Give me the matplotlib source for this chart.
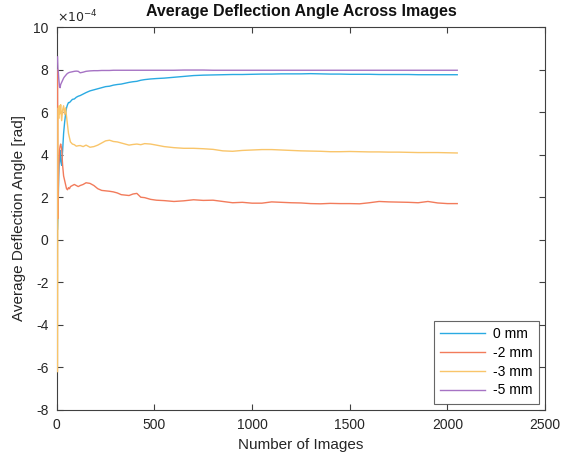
import matplotlib
matplotlib.use("Agg")
import matplotlib.pyplot as plt
from matplotlib.ticker import FixedLocator, FuncFormatter

plt.rcParams['font.family'] = ['Liberation Sans', 'DejaVu Sans']
plt.rcParams['axes.unicode_minus'] = False

# Number of images (x positions of sampled points)
n_images = [4, 6, 8, 10, 12, 14, 17, 20, 25, 30, 35, 40, 45, 50, 55, 60, 65, 70,
            80, 90, 100, 110, 120, 135, 150, 170, 190, 210, 230, 250, 270, 290,
            310, 330, 350, 370, 390, 410, 430, 450, 480, 510, 550, 600, 650, 700,
            750, 800, 850, 900, 950, 1000, 1050, 1100, 1150, 1200, 1250, 1300,
            1350, 1400, 1450, 1500, 1550, 1600, 1650, 1700, 1750, 1800, 1850,
            1900, 1950, 2000, 2050]

# Average deflection angle, in units of 1e-4 rad
mm_0 = [0.5, 1.2, 2.0, 3.0, 3.6, 4.1, 4.2, 3.7, 3.5, 4.2, 5.0, 5.5, 5.9, 6.2,
        6.35, 6.45, 6.45, 6.5, 6.6, 6.62, 6.7, 6.75, 6.78, 6.85, 6.92, 7.0, 7.05,
        7.1, 7.15, 7.2, 7.22, 7.27, 7.3, 7.32, 7.36, 7.4, 7.43, 7.45, 7.5, 7.53,
        7.56, 7.58, 7.6, 7.64, 7.68, 7.72, 7.74, 7.75, 7.76, 7.77, 7.77, 7.78,
        7.79, 7.79, 7.8, 7.8, 7.8, 7.81, 7.8, 7.79, 7.79, 7.78, 7.78, 7.78, 7.77,
        7.77, 7.77, 7.77, 7.76, 7.76, 7.76, 7.76, 7.76]

mm_2 = [8.0, 1.0, 2.5, 3.5, 3.8, 4.2, 4.4, 4.5, 4.3, 3.5, 3.0, 2.8, 2.6, 2.4,
        2.35, 2.45, 2.4, 2.5, 2.55, 2.6, 2.55, 2.5, 2.55, 2.6, 2.68, 2.65, 2.55,
        2.4, 2.32, 2.3, 2.28, 2.25, 2.2, 2.12, 2.1, 2.08, 2.15, 2.18, 2.0, 1.98,
        1.9, 1.86, 1.84, 1.8, 1.83, 1.88, 1.85, 1.86, 1.8, 1.74, 1.76, 1.72,
        1.72, 1.78, 1.76, 1.74, 1.73, 1.7, 1.69, 1.71, 1.7, 1.7, 1.69, 1.74,
        1.8, 1.78, 1.77, 1.76, 1.74, 1.8, 1.73, 1.7, 1.7]

mm_3 = [-6.2, 5.8, 6.2, 5.7, 6.3, 5.9, 6.0, 6.35, 5.6, 6.1, 6.3, 5.9, 6.2, 5.8,
        5.4, 5.0, 4.8, 4.6, 4.5, 4.47, 4.4, 4.42, 4.43, 4.38, 4.45, 4.35, 4.38,
        4.45, 4.55, 4.65, 4.68, 4.62, 4.6, 4.55, 4.5, 4.45, 4.48, 4.5, 4.47,
        4.52, 4.5, 4.45, 4.38, 4.33, 4.3, 4.3, 4.28, 4.25, 4.18, 4.16, 4.2, 4.22,
        4.24, 4.24, 4.22, 4.2, 4.18, 4.17, 4.16, 4.14, 4.14, 4.15, 4.14, 4.13,
        4.13, 4.12, 4.12, 4.11, 4.1, 4.1, 4.1, 4.09, 4.08]

mm_5 = [8.6, 8.0, 7.9, 7.6, 7.4, 7.2, 7.15, 7.3, 7.4, 7.5, 7.6, 7.67, 7.72,
        7.78, 7.82, 7.85, 7.87, 7.88, 7.9, 7.92, 7.93, 7.92, 7.85, 7.88, 7.92,
        7.94, 7.95, 7.95, 7.96, 7.96, 7.96, 7.97, 7.97, 7.97, 7.97, 7.97, 7.97,
        7.97, 7.97, 7.97, 7.97, 7.97, 7.97, 7.97, 7.98, 7.98, 7.98, 7.97, 7.97,
        7.97, 7.97, 7.97, 7.97, 7.97, 7.97, 7.97, 7.97, 7.97, 7.97, 7.97, 7.97,
        7.97, 7.97, 7.97, 7.97, 7.97, 7.97, 7.97, 7.97, 7.97, 7.97, 7.97, 7.97]

labels = ['0 mm', '-2 mm', '-3 mm', '-5 mm']
colors = ['#2AAAE2', '#F27B5B', '#F9C56A', '#A673C4']

x_ticks = [0, 500, 1000, 1500, 2000, 2500]
y_ticks = [-8, -6, -4, -2, 0, 2, 4, 6, 8, 10]

fig = plt.figure(figsize=(5.62, 4.59), dpi=100)
ax = fig.add_axes([0.101, 0.107, 0.869, 0.834])

for ys, lab, c in zip([mm_0, mm_2, mm_3, mm_5], labels, colors):
    ax.plot(n_images, ys, color=c, lw=1.0, label=lab, zorder=3)

axis_col = '#404040'
ax.set_xlim(0, 2500)
ax.set_ylim(-8, 10)
ax.xaxis.set_major_locator(FixedLocator(x_ticks))
ax.yaxis.set_major_locator(FixedLocator(y_ticks))
ax.yaxis.set_major_formatter(FuncFormatter(lambda v, p: '%d' % v))
ax.xaxis.set_major_formatter(FuncFormatter(lambda v, p: '%d' % v))
ax.tick_params(direction='in', top=True, right=True, length=4, width=0.8,
               colors=axis_col, labelsize=10, labelcolor='#262626')
ax.tick_params(axis='y', pad=6)
ax.tick_params(axis='x', pad=6)
for s in ax.spines.values():
    s.set_color(axis_col)
    s.set_linewidth(0.8)

ax.set_xlabel('Number of Images', fontsize=11, color='#262626', labelpad=4)
ax.set_ylabel('Average Deflection Angle [rad]', fontsize=11, color='#262626', labelpad=5)
ax.set_title('Average Deflection Angle Across Images', fontsize=11.5,
             fontweight='bold', color='#111111', pad=8)
ax.text(0.0, 1.005, r'$\times10^{-4}$', transform=ax.transAxes, fontsize=9,
        color='#262626', ha='left', va='bottom')

leg = ax.legend(loc='lower right', fontsize=10, handlelength=3.2,
                frameon=True, fancybox=False, borderpad=0.45,
                labelspacing=0.35, handletextpad=0.6, borderaxespad=0.45)
leg.get_frame().set_edgecolor(axis_col)
leg.get_frame().set_linewidth(0.8)

fig.savefig('out.png', dpi=100)
